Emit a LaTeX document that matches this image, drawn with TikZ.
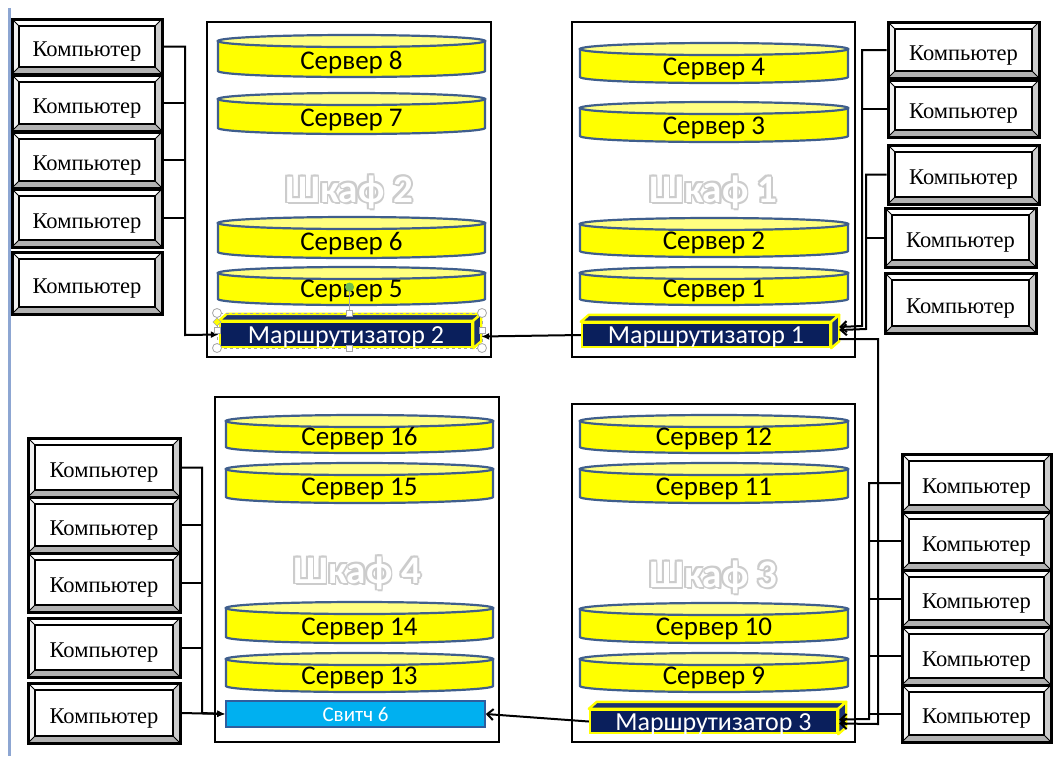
\documentclass[tikz,border=0pt]{standalone}
\usepackage{fontspec}
\usetikzlibrary{arrows.meta,calc}
\newfontfamily\calib{Carlito}
\newfontfamily\tnr{Liberation Serif}
\definecolor{srvyellow}{HTML}{FFFF00}
\definecolor{srvlidc}{HTML}{FFFF80}
\definecolor{srvedge}{HTML}{3F5E8C}
\definecolor{navyc}{HTML}{0A1F5C}
\definecolor{navyface}{HTML}{1C3272}
\definecolor{swfill}{HTML}{00B0F0}
\definecolor{swedge}{HTML}{2F5E9E}
\definecolor{pagebar}{HTML}{8DA6D2}
\definecolor{handlegreen}{HTML}{72C04A}

% cylinder-shaped server: name, x-left, x-right, y-top, y-bottom, label
\newcommand\srvunit[6]{%
  \pgfmathsetlengthmacro\srvrx{(#3-#2)/2}%
  \pgfmathsetmacro\srvcx{(#3+#2)/2}%
  \pgfmathsetmacro\srvyt{#4+6}%
  \pgfmathsetmacro\srvyb{#5-6}%
  \pgfmathsetmacro\srvbase{#5-7.5}%
  \draw[srvbody] (#2,\srvyt) -- (#2,\srvyb)
    arc[start angle=180,end angle=360,x radius=\srvrx,y radius=6pt]
    -- (#3,\srvyt) -- cycle;
  \draw[srvlid] (\srvcx,\srvyt) ellipse[x radius=\srvrx,y radius=6pt];
  \node[srvtext] (#1) at (\srvcx,\srvbase) {#6};
}

% cabinet caption: white letters with a soft grey rim
\newcommand\cablabel[4]{%
  \foreach \dx/\dy [count=\k] in {1.8/0,-1.8/0,0/1.8,0/-1.8,1.3/1.3,-1.3/1.3,1.3/-1.3,-1.3/-1.3,1.5/-2.8}
    \node[cabrim, xshift=\dx pt, yshift=\dy pt] (#1g\k) at (#2,#3) {#4};
  \node[cabtext] (#1) at (#2,#3) {#4};
}

% top and side faces of a box-shaped router
\newcommand\boxfaces[1]{%
  \draw[routerface] (#1.north west) -- ([shift={(8pt,7pt)}]#1.north west)
    -- ([shift={(8pt,7pt)}]#1.north east) -- (#1.north east) -- cycle;
  \draw[routerface] (#1.north east) -- ([shift={(8pt,7pt)}]#1.north east)
    -- ([shift={(8pt,7pt)}]#1.south east) -- (#1.south east) -- cycle;
}

\begin{document}
\begin{tikzpicture}[x=1pt,y=-1pt,
  wire/.style={draw=black, line width=2pt},
  cabinet/.style={draw=black, line width=2.6pt, fill=white, inner sep=0},
  srvbody/.style={fill=srvyellow, draw=srvedge, line width=2.2pt},
  srvlid/.style={fill=srvlidc, draw=srvedge, line width=2.2pt},
  srvtext/.style={font=\calib\fontsize{27pt}{30pt}\selectfont, anchor=base, inner sep=0},
  cabrim/.style={font=\calib\bfseries\fontsize{39pt}{42pt}\selectfont, anchor=base, inner sep=0, text=gray!40},
  cabtext/.style={font=\calib\bfseries\fontsize{39pt}{42pt}\selectfont, anchor=base, inner sep=0, text=white},
  router/.style={fill=navyc, draw=srvyellow, line width=2.4pt, text=white, inner sep=0,
    font=\calib\fontsize{26pt}{28pt}\selectfont, text height=17pt, text depth=0pt},
  routerface/.style={fill=navyface, draw=srvyellow, line width=2.4pt, line join=round},
  switchbox/.style={fill=swfill, draw=swedge, line width=1.6pt, text=white, inner sep=0,
    font=\calib\fontsize{21pt}{24pt}\selectfont, text height=14pt, text depth=0pt},
  pcbox/.style={draw=black, line width=3pt, fill=white, inner sep=0,
    font=\tnr\fontsize{22.5pt}{26pt}\selectfont, text height=20.5pt, text depth=0pt,
    path picture={
      \coordinate (pcOSW) at (path picture bounding box.south west);
      \coordinate (pcOSE) at (path picture bounding box.south east);
      \coordinate (pcONE) at (path picture bounding box.north east);
      \coordinate (pcONW) at (path picture bounding box.north west);
      \coordinate (pcISW) at ([shift={(7pt,7pt)}]pcOSW);
      \coordinate (pcISE) at ([shift={(-7pt,7pt)}]pcOSE);
      \coordinate (pcINE) at ([shift={(-7pt,-7pt)}]pcONE);
      \coordinate (pcINW) at ([shift={(7pt,-7pt)}]pcONW);
      \fill[gray!12] (pcOSW) -- (pcONW) -- (pcINW) -- (pcISW) -- cycle;
      \fill[gray!60] (pcOSW) -- (pcOSE) -- (pcISE) -- (pcISW) -- cycle;
      \fill[gray!40] (pcOSE) -- (pcONE) -- (pcINE) -- (pcISE) -- cycle;
      \draw[line width=0.9pt] (pcOSW) -- (pcISW) (pcOSE) -- (pcISE)
        (pcONE) -- (pcINE) (pcONW) -- (pcINW);
      \draw[line width=2.4pt, fill=white] (pcISW) rectangle (pcINE);
    }},
  handle/.style={fill=white, draw=gray!70, line width=0.8pt}
]
\useasboundingbox (0,0) rectangle (1054,756);
\fill[white] (0,0) rectangle (1054,756);

% page margin rule
\draw[pagebar, line width=3pt] (9,8) -- (9,756);

% cabinets
\node[cabinet, minimum width=284pt, minimum height=335pt] (cab2) at (349,189.5) {};
\node[cabinet, minimum width=283pt, minimum height=335pt] (cab1) at (713.5,189.5) {};
\node[cabinet, minimum width=284pt, minimum height=345pt] (cab4) at (357,569.5) {};
\node[cabinet, minimum width=283pt, minimum height=338pt] (cab3) at (713.5,573) {};

% servers
\srvunit{s8}{218}{485}{35}{77}{Сервер 8}
\srvunit{s7}{218}{485}{93}{134}{Сервер 7}
\srvunit{s6}{218}{485}{217}{258}{Сервер 6}
\srvunit{s5}{218}{485}{267}{305}{Сервер 5}
\srvunit{s4}{580}{848}{43}{83}{Сервер 4}
\srvunit{s3}{580}{848}{102}{142}{Сервер 3}
\srvunit{s2}{580}{848}{218}{257}{Сервер 2}
\srvunit{s1}{580}{848}{267}{305}{Сервер 1}
\srvunit{s16}{226}{493}{415}{453}{Сервер 16}
\srvunit{s15}{226}{493}{463}{503}{Сервер 15}
\srvunit{s14}{226}{493}{602}{643}{Сервер 14}
\srvunit{s13}{226}{493}{653}{692}{Сервер 13}
\srvunit{s12}{580}{848}{415}{453}{Сервер 12}
\srvunit{s11}{580}{848}{463}{503}{Сервер 11}
\srvunit{s10}{580}{848}{603}{643}{Сервер 10}
\srvunit{s9}{580}{848}{653}{692}{Сервер 9}

% cabinet captions
\cablabel{lab2}{349}{202}{Шкаф 2}
\cablabel{lab1}{713}{202}{Шкаф 1}
\cablabel{lab4}{357}{583}{Шкаф 4}
\cablabel{lab3}{713}{587}{Шкаф 3}

% routers and switch
\node[router, minimum width=252pt, minimum height=25pt] (r2) at (346,334.5) {Маршрутизатор 2};
\boxfaces{r2}
\node[router, minimum width=248pt, minimum height=24pt] (r1) at (706,335) {Маршрутизатор 1};
\boxfaces{r1}
\node[router, minimum width=247pt, minimum height=23pt] (r3) at (713.5,721.5) {Маршрутизатор 3};
\boxfaces{r3}
\node[switchbox, minimum width=259pt, minimum height=26pt] (sw) at (355.5,714) {Свитч 6};

% workstations
\node[pcbox, minimum width=150pt, minimum height=55pt] (pcL1) at (87,46.5) {Компьютер};
\node[pcbox, minimum width=150pt, minimum height=56pt] (pcL2) at (87,103) {Компьютер};
\node[pcbox, minimum width=150pt, minimum height=56pt] (pcL3) at (87,160) {Компьютер};
\node[pcbox, minimum width=150pt, minimum height=58pt] (pcL4) at (87,218) {Компьютер};
\node[pcbox, minimum width=150pt, minimum height=62pt] (pcL5) at (87,283) {Компьютер};

\node[pcbox, minimum width=151pt, minimum height=56pt] (pcR1) at (963.5,50) {Компьютер};
\node[pcbox, minimum width=151pt, minimum height=57pt] (pcR2) at (963.5,108.5) {Компьютер};
\node[pcbox, minimum width=151pt, minimum height=59pt] (pcR3) at (963.5,174.5) {Компьютер};
\node[pcbox, minimum width=151pt, minimum height=59pt] (pcR4) at (960.5,237.5) {Компьютер};
\node[pcbox, minimum width=151pt, minimum height=60pt] (pcR5) at (960.5,303) {Компьютер};

\node[pcbox, minimum width=152pt, minimum height=59pt] (pcD1) at (104,467.5) {Компьютер};
\node[pcbox, minimum width=152pt, minimum height=56pt] (pcD2) at (104,525) {Компьютер};
\node[pcbox, minimum width=152pt, minimum height=59pt] (pcD3) at (104,582.5) {Компьютер};
\node[pcbox, minimum width=152pt, minimum height=59pt] (pcD4) at (104,647.5) {Компьютер};
\node[pcbox, minimum width=152pt, minimum height=60pt] (pcD5) at (104,713) {Компьютер};

\node[pcbox, minimum width=149pt, minimum height=58pt] (pcB1) at (976.5,483) {Компьютер};
\node[pcbox, minimum width=149pt, minimum height=58pt] (pcB2) at (976.5,541) {Компьютер};
\node[pcbox, minimum width=149pt, minimum height=57pt] (pcB3) at (976.5,598.5) {Компьютер};
\node[pcbox, minimum width=149pt, minimum height=58pt] (pcB4) at (976.5,656) {Компьютер};
\node[pcbox, minimum width=149pt, minimum height=57pt] (pcB5) at (976.5,713.5) {Компьютер};

% junction points of the cabling
\coordinate (jL) at (185,335);
\coordinate (jR1) at (862,326);
\coordinate (jR2) at (866,329);
\coordinate (jBR) at (869,719);
\coordinate (jBL) at (202,713);
\coordinate (r1in) at ([shift={(8pt,8pt)}]r1.east);
\coordinate (r1in2) at ([shift={(8pt,5pt)}]r1.east);
\coordinate (r1out) at ([shift={(8pt,-4pt)}]r1.east);
\coordinate (r2in) at ([shift={(8pt,-2pt)}]r2.east);
\coordinate (r3in) at ([shift={(1pt,-2pt)}]r3.east);
\coordinate (r3in2) at ([shift={(1pt,2pt)}]r3.east);
\coordinate (linkA) at (878,339);
\coordinate (linkB) at (878,724);

% left group -> router 2
\draw[wire, -{Latex[length=8pt,width=7pt]}] (pcL1.east) -| (jL) -- (r2.west);
\draw[wire] (pcL2.east) -- (pcL2.east -| jL);
\draw[wire] (pcL3.east) -- (pcL3.east -| jL);
\draw[wire] (pcL4.east) -- (pcL4.east -| jL);

% right group -> router 1
\draw[wire, -{Straight Barb[length=6pt,width=11pt]}] (pcR1.west) -| (jR1) -- (r1in);
\draw[wire] (pcR2.west) -- (pcR2.west -| jR1);
\draw[wire, -{Straight Barb[length=6pt,width=11pt]}] (pcR3.west) -| (jR2) -- (r1in2);
\draw[wire] (pcR4.west) -- (pcR4.west -| jR2);

% router 1 -> router 2
\draw[wire, -{Latex[length=8pt,width=7pt]}] (r1.west) -- (r2in);

% router 1 -> router 3
\draw[wire, -{Straight Barb[length=6pt,width=11pt]}] (r1out) -- (linkA) -- (linkB) -- (r3in);

% lower right group -> router 3
\draw[wire, -{Straight Barb[length=6pt,width=11pt]}] (pcB1.west) -| (jBR) -- (r3in2);
\draw[wire] (pcB2.west) -- (pcB2.west -| jBR);
\draw[wire] (pcB3.west) -- (pcB3.west -| jBR);
\draw[wire] (pcB4.west) -- (pcB4.west -| jBR);
\draw[wire] (pcB5.west) -- (pcB5.west -| jBR);

% router 3 -> switch
\draw[wire, -{Straight Barb[length=6pt,width=11pt]}] (r3.west) -- (sw.east);

% lower left group -> switch
\draw[wire, -{Latex[length=8pt,width=7pt]}] (pcD1.east) -| (jBL) -- (sw.west);
\draw[wire] (pcD2.east) -- (pcD2.east -| jBL);
\draw[wire] (pcD3.east) -- (pcD3.east -| jBL);
\draw[wire] (pcD4.east) -- (pcD4.east -| jBL);
\draw[wire, -{Latex[length=8pt,width=7pt]}] (pcD5.east) -- (sw.west);

% selection frame around router 2
\draw[gray!70, line width=0.8pt, dashed] (217,313) rectangle (482,348);
\draw[gray!70, line width=0.8pt] (349.5,291) -- (349.5,310);
\fill[handlegreen] (349.5,287) circle[radius=4.5pt];
\foreach \hx/\hy in {217/313,482/313,217/348,482/348}
  \draw[handle] (\hx,\hy) circle[radius=4.5pt];
\foreach \hx/\hy in {349.5/313,349.5/348,217/330.5,482/330.5}
  \draw[handle] (\hx-3,\hy-3) rectangle (\hx+3,\hy+3);
\draw[fill=srvyellow, draw=gray!70, line width=0.6pt] (217,318) -- (221,322) -- (217,326) -- (213,322) -- cycle;
\end{tikzpicture}
\end{document}
